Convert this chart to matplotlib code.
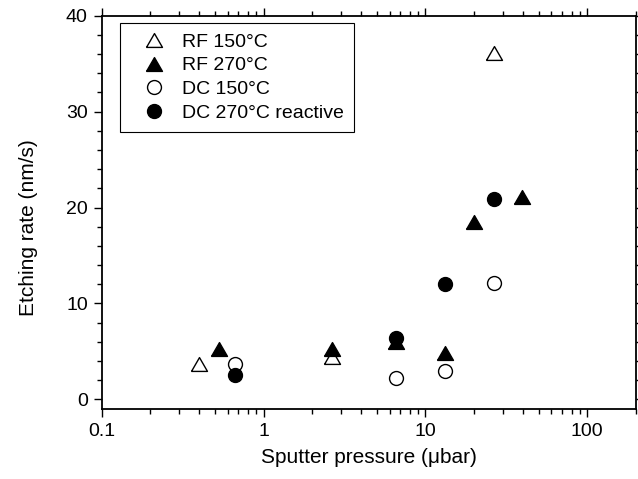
import matplotlib
matplotlib.use("Agg")
import matplotlib.pyplot as plt
from matplotlib.ticker import LogLocator, MultipleLocator, FixedLocator, NullFormatter

plt.rcParams["font.family"] = ["Liberation Sans", "DejaVu Sans"]

# ── Data ─────────────────────────────────────────────────────────────────────
rf150_p = [0.4, 2.65, 26.7]
rf150_r = [3.7, 4.4, 36.1]

rf270_p = [0.53, 2.65, 6.6, 13.3, 19.9, 39.6]
rf270_r = [5.3, 5.3, 6.0, 4.8, 18.5, 21.1]

dc150_p = [0.667, 6.6, 13.3, 26.7]
dc150_r = [3.7, 2.25, 2.95, 12.1]

dc270_p = [0.667, 6.6, 13.3, 26.7]
dc270_r = [2.5, 6.45, 12.0, 20.9]

# equilateral triangle marker (closed)
TRI = [(-1, -0.866), (1, -0.866), (0, 0.866), (-1, -0.866)]

fig = plt.figure(figsize=(6.38, 4.79), dpi=100)
ax = fig.add_axes([0.1594, 0.1461, 0.8375, 0.8211])

ax.plot(rf150_p, rf150_r, ls="none", marker=TRI, ms=11.5, mfc="white",
        mec="black", mew=1.0, label="RF 150°C")
ax.plot(rf270_p, rf270_r, ls="none", marker=TRI, ms=11.5, mfc="black",
        mec="black", mew=1.0, label="RF 270°C")
ax.plot(dc150_p, dc150_r, ls="none", marker="o", ms=10, mfc="white",
        mec="black", mew=1.0, label="DC 150°C")
ax.plot(dc270_p, dc270_r, ls="none", marker="o", ms=10, mfc="black",
        mec="black", mew=1.0, label="DC 270°C reactive")

ax.set_xscale("log")
ax.set_xlim(0.1, 200)
ax.set_ylim(-1, 40)

ax.xaxis.set_major_locator(FixedLocator([0.1, 1, 10, 100]))
ax.set_xticklabels(["0.1", "1", "10", "100"])
ax.xaxis.set_minor_locator(LogLocator(base=10, subs=range(2, 10), numticks=20))
ax.xaxis.set_minor_formatter(NullFormatter())
ax.yaxis.set_major_locator(MultipleLocator(10))
ax.yaxis.set_minor_locator(MultipleLocator(2))

ax.tick_params(which="both", direction="out", top=True, right=True,
               labelsize=14, width=1.0, pad=4)
ax.tick_params(which="major", length=6)
ax.tick_params(which="minor", length=3.5)
for s in ax.spines.values():
    s.set_linewidth(1.3)

ax.set_xlabel("Sputter pressure (μbar)", fontsize=15, labelpad=6)
ax.set_ylabel("Etching rate (nm/s)", fontsize=15, labelpad=20, y=0.4615)

leg = ax.legend(loc="upper left", bbox_to_anchor=(0.034, 0.981),
                borderaxespad=0, fontsize=14, frameon=True, fancybox=False,
                handlelength=2.5, handletextpad=0.2, labelspacing=0.32,
                borderpad=0.5)
leg.get_frame().set_edgecolor("black")
leg.get_frame().set_linewidth(0.8)
leg.get_frame().set_alpha(1)

fig.savefig("out.png", dpi=100)
